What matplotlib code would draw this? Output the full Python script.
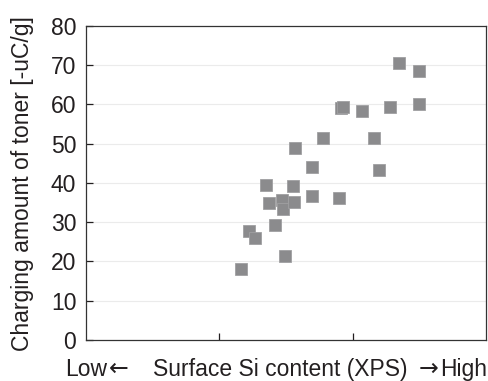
import matplotlib
matplotlib.use("Agg")
import matplotlib.pyplot as plt

# Surface Si content (arbitrary position, Low -> High) vs charging amount
si_content = [1.16, 1.225, 1.27, 1.35, 1.37, 1.415, 1.47, 1.48, 1.49, 1.55,
              1.56, 1.57, 1.695, 1.695, 1.78, 1.90, 1.915, 1.93, 2.07, 2.16,
              2.195, 2.28, 2.35, 2.495, 2.495]
charge = [18.2, 27.8, 26.0, 39.4, 35.0, 29.4, 35.7, 33.3, 21.3, 39.1,
          35.1, 49.0, 44.0, 36.7, 51.4, 36.2, 59.2, 59.3, 58.4, 51.4,
          43.4, 59.4, 70.6, 68.4, 60.0]
y_ticks = [0, 10, 20, 30, 40, 50, 60, 70, 80]
x_ticks = [1, 2]

plt.rcParams['font.family'] = ['Liberation Sans', 'DejaVu Sans']
text_color = '#231f20'

fig = plt.figure(figsize=(4.89, 3.81), dpi=100)
ax = fig.add_axes([0.176, 0.1076, 0.818, 0.8245])

for y in y_ticks[1:-1]:
    ax.axhline(y, color='#ebebeb', linewidth=0.8, zorder=0)

ax.plot(si_content, charge, linestyle='none', marker='s', markersize=8,
        color='#8b8b8d', markeredgecolor='#a0a0a2', markeredgewidth=0.6, zorder=3)

ax.set_xlim(0, 3)
ax.set_ylim(0, 80)
ax.set_yticks(y_ticks)
ax.set_xticks(x_ticks)
ax.set_xticklabels([])
ax.tick_params(axis='both', direction='in', length=5, width=0.9, color=text_color)
ax.tick_params(axis='y', labelsize=16.5, labelcolor=text_color, pad=7)
for s in ax.spines.values():
    s.set_color('#333333')
    s.set_linewidth(0.9)

fig.text(0.046, 0.518, 'Charging amount of toner [-uC/g]', fontsize=16.5,
         color=text_color, rotation=90, ha='center', va='center')

# x-axis description: Low <- ... -> High
fig.text(0.133, 0.013, 'Low', fontsize=16.5, color=text_color, ha='left', va='baseline')
fig.text(0.222, 0.013, '\u2190', fontsize=17, color=text_color, ha='left', va='baseline',
         family='DejaVu Sans')
fig.text(0.312, 0.013, 'Surface Si content (XPS)', fontsize=16.5, color=text_color,
         ha='left', va='baseline')
fig.text(0.857, 0.013, '\u2192', fontsize=17, color=text_color, ha='left', va='baseline',
         family='DejaVu Sans')
fig.text(0.997, 0.013, 'High', fontsize=16.5, color=text_color, ha='right', va='baseline')

fig.savefig('out.png', dpi=100)
